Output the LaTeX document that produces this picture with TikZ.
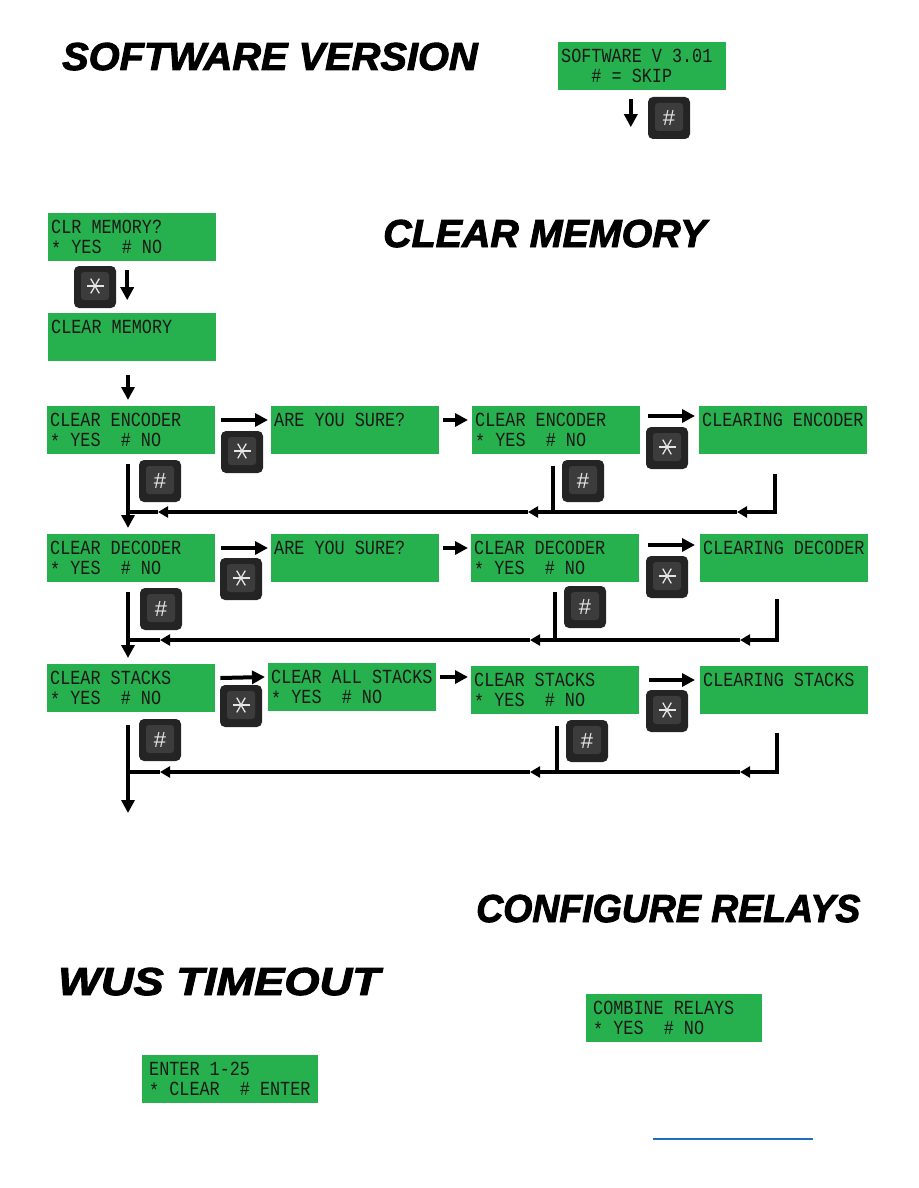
\documentclass[tikz,border=0pt]{standalone}
\usepackage{fontspec}
\usetikzlibrary{positioning, arrows.meta}
\usepackage{xcolor}
\setmainfont{Liberation Sans}
\newfontfamily\lcdfont[FakeStretch=0.84]{Liberation Mono}
\newfontfamily\headfont[FakeBold=2.4]{Liberation Sans}
\definecolor{lcdgreen}{RGB}{38,176,78}
\definecolor{keydark}{RGB}{36,36,36}
\definecolor{keyface}{RGB}{60,60,60}
\definecolor{linkblue}{RGB}{30,110,190}
% two lines of an LCD screen, top aligned
\newcommand{\lcdtext}[2]{\parbox[t][36pt][t]{162pt}{\strut #1\\\strut #2}}
\newcommand{\yesno}{\raisebox{-2pt}{*}~YES~~\#~NO}

\begin{document}
\begin{tikzpicture}[
    x=1pt, y=-1pt,
    heading/.style={anchor=base west, inner sep=0pt, font=\headfont\bfseries\itshape\fontsize{39}{39}\selectfont},
    lcd/.style={rectangle, fill=lcdgreen, anchor=north west, inner xsep=3pt, inner ysep=6pt, minimum width=168pt, text=black!90, font=\lcdfont\fontsize{20}{20}\selectfont\frenchspacing},
    keybtn/.style={rectangle, rounded corners=5pt, fill=keydark, minimum size=42pt, inner sep=0pt, text=white!90!black, font=\fontsize{22}{22}\selectfont,
        path picture={\fill[keyface, rounded corners=3pt] ([shift={(7pt,-6pt)}]path picture bounding box.north west) rectangle ([shift={(-7pt,8pt)}]path picture bounding box.south east);}},
    starkey/.style={keybtn,
        path picture={\fill[keyface, rounded corners=3pt] ([shift={(7pt,-6pt)}]path picture bounding box.north west) rectangle ([shift={(-7pt,8pt)}]path picture bounding box.south east);
            \foreach \a in {0,60,120} \draw[white!90!black, line width=1.3pt] ([yshift=1pt]path picture bounding box.center) ++(\a:8.5pt) -- ++(\a+180:17pt);}},
    flow/.style={line width=4pt, -{Triangle[length=13pt,width=13pt]}},
    back/.style={line width=4pt, -{Triangle[length=10pt,width=11pt]}},
    rail/.style={line width=4pt}
]
    \useasboundingbox (0,0) rectangle (918,1188);

    % headings
    \node[heading] (hsw) at (62,70) {\scalebox{1.02}[1]{SOFTWARE VERSION}};
    \node[heading] (hclr) at (383,247) {\scalebox{1.01}[1]{CLEAR MEMORY}};
    \node[heading] (hrel) at (476,922) {\scalebox{0.96}[1]{CONFIGURE RELAYS}};
    \node[heading] (hwus) at (58,995) {\scalebox{1.16}[1]{WUS TIMEOUT}};

    % software version
    \node[lcd] (sw) at (558,42) {\lcdtext{SOFTWARE V 3.01}{~~~\#~=~SKIP}};
    \node[keybtn] (k0) at (669,118) {\#};
    \draw[flow] ([xshift=-17pt,yshift=-2pt]k0.north west) -- ([xshift=-17pt,yshift=12pt]k0.south west);

    % clear memory
    \node[lcd] (clr) at (48,213) {\lcdtext{CLR MEMORY?}{\yesno}};
    \node[starkey] (k1) at (95,287) {};
    \node[lcd] (mem) at (48,313) {\lcdtext{CLEAR MEMORY}{}};
    \draw[flow] ([xshift=11pt,yshift=-4pt]k1.north east) -- ([xshift=11pt,yshift=8pt]k1.south east);

    % encoder row
    \node[lcd] (enc1) at (47,406) {\lcdtext{CLEAR ENCODER}{\yesno}};
    \node[lcd] (sure1) at (271,406) {\lcdtext{ARE YOU SURE?}{}};
    \node[lcd] (enc2) at (472,406) {\lcdtext{CLEAR ENCODER}{\yesno}};
    \node[lcd] (cle1) at (699,406) {\lcdtext{CLEARING ENCODER}{}};
    \node[starkey] (s11) at (242,452) {};
    \node[keybtn] (h11) at (160,481) {\#};
    \node[starkey] (s12) at (667,448) {};
    \node[keybtn] (h12) at (583,481) {\#};
    \draw[flow] ([xshift=80pt,yshift=-14pt]mem.south west) -- ([xshift=81pt,yshift=6pt]enc1.north west);

    % decoder row
    \node[lcd] (dec1) at (47,534) {\lcdtext{CLEAR DECODER}{\yesno}};
    \node[lcd] (sure2) at (271,534) {\lcdtext{ARE YOU SURE?}{}};
    \node[lcd] (dec2) at (471,534) {\lcdtext{CLEAR DECODER}{\yesno}};
    \node[lcd] (cle2) at (700,534) {\lcdtext{CLEARING DECODER}{}};
    \node[starkey] (s21) at (241,579) {};
    \node[keybtn] (h21) at (161,609) {\#};
    \node[starkey] (s22) at (667,577) {};
    \node[keybtn] (h22) at (585,607) {\#};

    % stacks row
    \node[lcd] (stk1) at (47,664) {\lcdtext{CLEAR STACKS}{\yesno}};
    \node[lcd] (all3) at (268,663) {\lcdtext{CLEAR ALL STACKS}{\yesno}};
    \node[lcd] (stk2) at (471,666) {\lcdtext{CLEAR STACKS}{\yesno}};
    \node[lcd] (cle3) at (700,666) {\lcdtext{CLEARING STACKS}{}};
    \node[starkey] (s31) at (241,706) {};
    \node[keybtn] (h31) at (160,740) {\#};
    \node[starkey] (s32) at (667,711) {};
    \node[keybtn] (h32) at (587,741) {\#};

    % wus timeout and relays
    \node[lcd, minimum width=176pt] (rel) at (586,994) {\lcdtext{COMBINE RELAYS}{\yesno}};
    \node[lcd, minimum width=176pt] (wus) at (142,1055) {\lcdtext{ENTER 1-25}{\raisebox{-2pt}{*}~CLEAR~~\#~ENTER}};

    % forward arrows
    \draw[flow] ([shift={(6pt,-14pt)}]enc1.north east) -- ([shift={(-3pt,-14pt)}]sure1.north west);
    \draw[flow] ([shift={(4pt,-14pt)}]sure1.north east) -- ([shift={(-4pt,-14pt)}]enc2.north west);
    \draw[flow] ([shift={(8pt,-10pt)}]enc2.north east) -- ([shift={(-4pt,-10pt)}]cle1.north west);
    \draw[flow] ([shift={(6pt,-14pt)}]dec1.north east) -- ([shift={(-3pt,-14pt)}]sure2.north west);
    \draw[flow] ([shift={(4pt,-14pt)}]sure2.north east) -- ([shift={(-3pt,-14pt)}]dec2.north west);
    \draw[flow] ([shift={(9pt,-11pt)}]dec2.north east) -- ([shift={(-5pt,-11pt)}]cle2.north west);
    \draw[flow] ([shift={(5pt,-14pt)}]stk1.north east) -- ([shift={(-3pt,-14pt)}]all3.north west);
    \draw[flow] ([shift={(4pt,-14pt)}]all3.north east) -- ([shift={(-3pt,-11pt)}]stk2.north west);
    \draw[flow] ([shift={(10pt,-14pt)}]stk2.north east) -- ([shift={(-5pt,-14pt)}]cle3.north west);

    % down the left side
    \coordinate (out) at (128,813);
    \draw[flow] ([xshift=81pt,yshift=-10pt]enc1.south west) -- ([xshift=81pt,yshift=6pt]dec1.north west);
    \draw[flow] ([xshift=81pt,yshift=-10pt]dec1.south west) -- ([xshift=81pt,yshift=6pt]stk1.north west);
    \draw[flow] ([xshift=81pt,yshift=-13pt]stk1.south west) -- (out);

    % return lines
    \coordinate (r1a) at (737,512); \coordinate (r1b) at (528,512); \coordinate (r1c) at (158,512); \coordinate (r1d) at (128,512);
    \coordinate (j1) at (553,512);
    \draw[back] ([xshift=76pt,yshift=-20pt]cle1.south west) |- (r1a);
    \draw[back] (r1a) -- (r1b);
    \draw[back] (r1b) -- (r1c);
    \draw[rail] (r1c) -- (r1d);
    \draw[rail] ([xshift=81pt,yshift=-12pt]enc2.south west) -- (j1);

    \coordinate (r2a) at (740,640); \coordinate (r2b) at (530,640); \coordinate (r2c) at (160,640); \coordinate (r2d) at (128,640);
    \coordinate (j2) at (555,640);
    \draw[back] ([xshift=77pt,yshift=-17pt]cle2.south west) |- (r2a);
    \draw[back] (r2a) -- (r2b);
    \draw[back] (r2b) -- (r2c);
    \draw[rail] (r2c) -- (r2d);
    \draw[rail] ([xshift=84pt,yshift=-10pt]dec2.south west) -- (j2);

    \coordinate (r3a) at (740,772); \coordinate (r3b) at (530,772); \coordinate (r3c) at (160,772); \coordinate (r3d) at (128,772);
    \coordinate (j3) at (557,772);
    \draw[back] ([xshift=77pt,yshift=-19pt]cle3.south west) |- (r3a);
    \draw[back] (r3a) -- (r3b);
    \draw[back] (r3b) -- (r3c);
    \draw[rail] (r3c) -- (r3d);
    \draw[rail] ([xshift=86pt,yshift=-12pt]stk2.south west) -- (j3);

    % link underline
    \draw[linkblue, line width=1.5pt] (653,1139) -- (813,1139);
\end{tikzpicture}
\end{document}
